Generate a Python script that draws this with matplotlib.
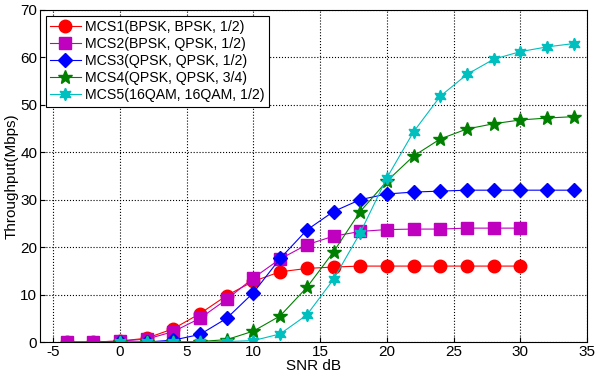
import matplotlib
matplotlib.use("Agg")
from matplotlib import pyplot as plt

plt.rcParams['font.family'] = ['Liberation Sans', 'DejaVu Sans']
plt.rcParams['axes.unicode_minus'] = False

snr_a = [-4, -2, 0, 2, 4, 6, 8, 10, 12, 14, 16, 18, 20, 22, 24, 26, 28, 30]
snr_b = [0, 2, 4, 6, 8, 10, 12, 14, 16, 18, 20, 22, 24, 26, 28, 30, 32, 34]

mcs1 = [0, 0, 0.2, 0.8, 2.8, 6.0, 9.8, 12.8, 14.8, 15.5, 15.8, 16, 16, 16, 16, 16, 16, 16]
mcs2 = [0, 0, 0.2, 0.6, 2.2, 5.0, 9.0, 13.5, 17.5, 20.5, 22.3, 23.3, 23.7, 23.8, 23.8, 24, 24, 24]
mcs3 = [0, 0, 0.4, 1.6, 5.0, 10.4, 17.6, 23.6, 27.5, 30.0, 31.2, 31.6, 31.8, 32, 32, 32, 32, 32]
mcs4 = [0, 0, 0, 0.1, 0.5, 2.3, 5.5, 11.5, 19.0, 27.5, 33.9, 39.2, 42.8, 44.9, 46.0, 46.8, 47.2, 47.5]
mcs5 = [0, 0, 0, 0, 0.1, 0.3, 1.7, 5.7, 13.2, 23.0, 34.6, 44.3, 51.8, 56.4, 59.6, 61.2, 62.2, 62.9]

labels = ['MCS1(BPSK, BPSK, 1/2)', 'MCS2(BPSK, QPSK, 1/2)', 'MCS3(QPSK, QPSK, 1/2)',
          'MCS4(QPSK, QPSK, 3/4)', 'MCS5(16QAM, 16QAM, 1/2)']

fig = plt.figure(figsize=(5.96, 3.8), dpi=100)
ax = fig.add_axes([0.067, 0.1, 0.918, 0.874])

ax.plot(snr_a, mcs1, '-', color='red', marker='o', markersize=9, lw=0.8, label=labels[0])
ax.plot(snr_a, mcs2, '-', color='m', marker='s', markersize=8, lw=0.8, label=labels[1])
ax.plot(snr_b, mcs3, '-', color='blue', marker='D', markersize=7, lw=0.8, label=labels[2])
ax.plot(snr_b, mcs4, '-', color='green', marker='*', markersize=10, lw=0.8, label=labels[3])
ax.plot(snr_b, mcs5, '-', color='c', marker=(6, 1, 0), markersize=9, lw=0.8, label=labels[4])

ax.set_xlim(-6, 35)
ax.set_ylim(0, 70)
ax.set_xticks(range(-5, 36, 5))
ax.set_yticks(range(0, 71, 10))
ax.grid(True, linestyle=':', color='black', lw=0.8)
ax.tick_params(labelsize=11, direction='in', pad=2)
ax.set_xlabel('SNR dB', fontsize=11, labelpad=0)
ax.set_ylabel('Throughput(Mbps)', fontsize=11, labelpad=1)

leg = ax.legend(loc='upper left', fontsize=10.2, fancybox=False, framealpha=1,
                edgecolor='black', handlelength=2.2, borderaxespad=0.4,
                labelspacing=0.22, handletextpad=0.3, borderpad=0.3)
leg.get_frame().set_linewidth(0.8)

fig.savefig('out.png', dpi=100)
